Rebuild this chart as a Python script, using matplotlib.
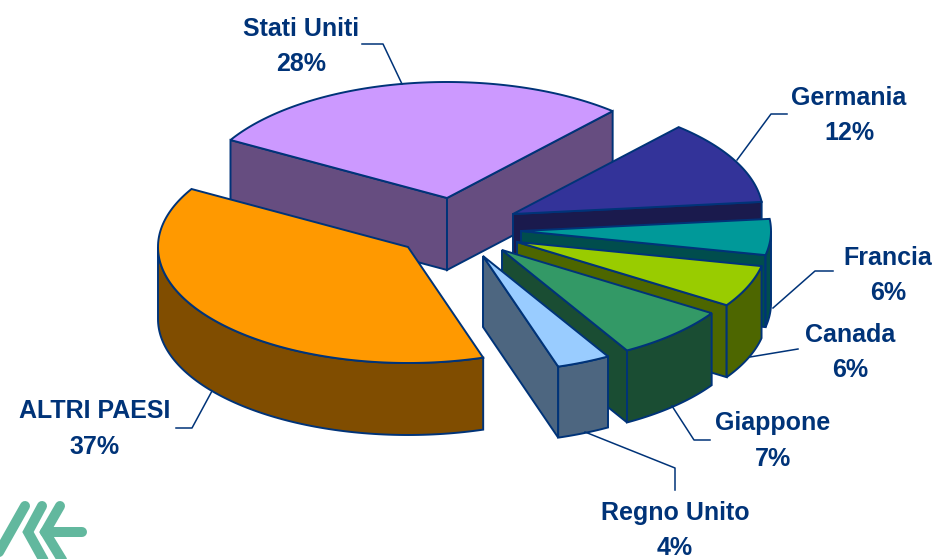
import numpy as np
import matplotlib.pyplot as plt
from matplotlib.patches import Polygon

# Dati
labels = ['Germania', 'Francia', 'Canada', 'Giappone', 'Regno Unito', 'ALTRI PAESI', 'Stati Uniti']
shares = [12, 6, 6, 7, 4, 37, 28]

# Colori
top_colors = ['#333399', '#009999', '#99CC00', '#339966', '#99CCFF', '#FF9900', '#CC99FF']
side_colors = ['#1A1A4D', '#004D4D', '#4D6600', '#1A4D33', '#4D6680', '#804D00', '#664D80']
edge = '#003378'

# Geometria della torta: pixel, vista inclinata
rx, ry = 250, 116
depth = [72, 72, 72, 72, 71, 72, 72]
start_angle = 51
apex = [(513, 214), (521, 231), (517, 242), (502, 250), (483, 256), (408, 247), (447, 198)]
# piccola correzione della prospettiva sui bordi delle fette (gradi)
nudge = [-2.5, -1.8, 1.8, 2.4, 0.6, 2.5, -1.8, -2.5]

# Etichette e linee guida
text_pos = [(849, 98, 133), (888, 258, 293), (850, 335, 370), (773, 423, 459),
            (675, 513, 548), (95, 411, 447), (301, 29, 64)]
leaders = [[(737, 160), (771, 114), (787, 114)],
           [(773, 308), (815, 271), (833, 271)],
           [(750, 357), (798, 349)],
           [(672, 406), (694, 440), (710, 440)],
           [(585, 432), (675, 468), (675, 490)],
           [(212, 391), (192, 428), (176, 428)],
           [(402, 84), (383, 44), (362, 44)]]

logo_strokes = [[(25, 506), (-10, 568)],
                [(42, 506), (28, 532), (48, 568)],
                [(60, 506), (45, 532), (67, 568)],
                [(45, 532), (82, 532)]]

fig = plt.figure(figsize=(9.36, 5.59), dpi=100)
ax = fig.add_axes([0, 0, 1, 1])
ax.set_xlim(0, 936)
ax.set_ylim(559, 0)
ax.axis('off')


def point(c, deg):
    t = np.radians(deg)
    return np.column_stack([c[0] + rx * np.cos(t), c[1] - ry * np.sin(t)])


def draw_slice(i, a, b):
    c = apex[i]
    d = depth[i]
    pa = point(c, np.array([a]))[0]
    pb = point(c, np.array([b]))[0]

    # facce laterali verso chi guarda
    if np.cos(np.radians(a)) < 0:
        ax.add_patch(Polygon([c, pa, pa + [0, d], (c[0], c[1] + d)], fc=side_colors[i], ec=edge, lw=1.4))
    if np.cos(np.radians(b)) > 0:
        ax.add_patch(Polygon([c, pb, pb + [0, d], (c[0], c[1] + d)], fc=side_colors[i], ec=edge, lw=1.4))

    th = np.linspace(a, b, 120)
    vis = th[np.sin(np.radians(th)) < 0]
    if len(vis) > 1:
        arc = point(c, vis)
        ax.add_patch(Polygon(np.vstack([arc, arc[::-1] + [0, d]]), fc=side_colors[i], ec=edge, lw=1.4))

    top = np.vstack([[c], point(c, th)])
    ax.add_patch(Polygon(top, fc=top_colors[i], ec=edge, lw=1.4))


bounds = start_angle - np.cumsum([0] + shares) * 3.6 + np.array(nudge)

# dal fondo verso il davanti
for i in [6, 0, 1, 2, 3, 4, 5]:
    draw_slice(i, bounds[i], bounds[i + 1])

for pts in leaders:
    xs, ys = zip(*pts)
    ax.plot(xs, ys, color=edge, lw=1.1)

for name, val, (x, y1, y2) in zip(labels, shares, text_pos):
    ax.text(x, y1, name, color=edge, fontsize=18, fontweight='bold', family='Liberation Sans',
            ha='center', va='center')
    ax.text(x, y2, f'{val}%', color=edge, fontsize=18, fontweight='bold', family='Liberation Sans',
            ha='center', va='center')

# logo
for s in logo_strokes:
    xs, ys = zip(*s)
    ax.plot(xs, ys, color='#62B89E', lw=7.2, solid_capstyle='round', solid_joinstyle='miter')

fig.savefig('out.png', dpi=100)
